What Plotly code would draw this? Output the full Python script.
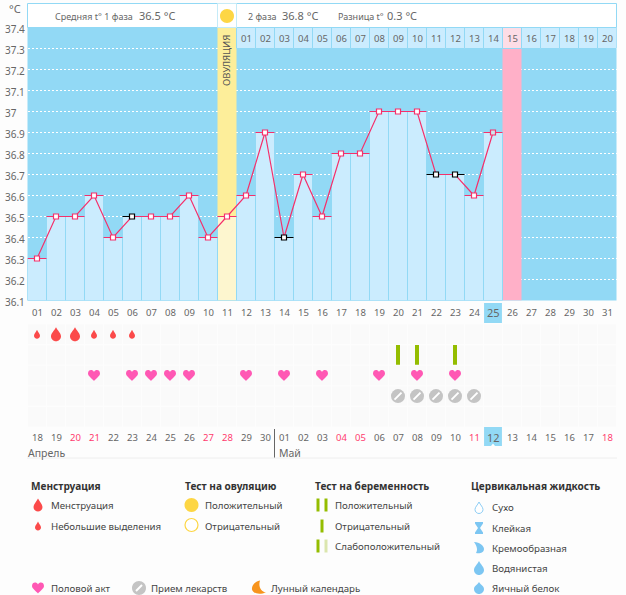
import plotly.graph_objects as go

W, H = 626, 595

days = list(range(1, 32))
day_labels = ["%02d" % d for d in days]
temps = [36.3, 36.5, 36.5, 36.6, 36.4, 36.5, 36.5, 36.5, 36.6, 36.4, 36.5, 36.6, 36.9, 36.4, 36.7,
         36.5, 36.8, 36.8, 37.0, 37.0, 37.0, 36.7, 36.7, 36.6, 36.9]
temp_days = days[:len(temps)]
black_days = [6, 14, 22, 23]

date_labels = ["18", "19", "20", "21", "22", "23", "24", "25", "26", "27", "28", "29", "30", "01", "02", "03",
               "04", "05", "06", "07", "08", "09", "10", "11", "12", "13", "14", "15", "16", "17", "18"]
red_days = [3, 4, 10, 11, 17, 18, 24, 31]
cycle_days = list(range(12, 32))
cycle_labels = ["%02d" % d for d in range(1, 21)]
y_ticks = [37.4, 37.3, 37.2, 37.1, 37, 36.9, 36.8, 36.7, 36.6, 36.5, 36.4, 36.3, 36.2, 36.1]
y_labels = ["37.4", "37.3", "37.2", "37.1", "37", "36.9", "36.8", "36.7", "36.6", "36.5", "36.4", "36.3", "36.2", "36.1"]

big_drop_days = [2, 3]
small_drop_days = [1, 4, 5, 6]
preg_test_days = [20, 21, 23]
heart_days = [4, 6, 7, 8, 9, 12, 14, 16, 19, 21, 23]
pill_days = [20, 21, 22, 23, 24]
ovulation_day = 11
peak_day = 26
today = 25

SKY = "#92d9f5"
PALE = "#cbecfe"
PINK = "#f5306b"
GREEN = "#94bd00"
ICON_BLUE = "#7cc6f2"
GREY_TXT = "#666666"
DARK_TXT = "#444444"
FONT = "Noto Sans"


def drop(top, r, c):
    # tip at top, round body of radius r centred on c
    return ("M0,{t} C{a},{m} {r},{u} {r},{c} C{r},{d} {e},{b} 0,{b} C-{e},{b} -{r},{d} -{r},{c} "
            "C-{r},{u} -{a},{m} 0,{t} Z").format(t=top, a=r * 0.35, m=top * 0.5, r=r, u=c + r * 0.6, c=c,
                                                 d=c - r * 0.55, e=r * 0.55, b=c - r)


def circle(r):
    k = r * 0.55
    return ("M{r},0 C{r},{k} {k},{r} 0,{r} C-{k},{r} -{r},{k} -{r},0 C-{r},-{k} -{k},-{r} 0,-{r} "
            "C{k},-{r} {r},-{k} {r},0 Z").format(r=r, k=k)


BIG_DROP = drop(7, 5, -2)
SMALL_DROP = drop(4.5, 3, -1.5)
LEGEND_DROP = drop(6.5, 4.5, -2)
HEART = "M0,-5.5 C-2,-3 -6,-0.5 -6,2 C-6,6 -1.5,6.5 0,3.5 C1.5,6.5 6,6 6,2 C6,-0.5 2,-3 0,-5.5 Z"
MOON = "M1,7 C-5,6 -7.5,1 -7,-2 C-6,-6 0,-7.5 7,-5 C2,-4 -1,1 1,7 Z"
SLASH = "M-3,-3 L3,3"
NOTCH = "M-2,0 L2,0 L0,2.5 Z"


def px(x):
    return x / W


def py(y):
    return 1 - y / H


def box(x0, y0, x1, y1, fill, line=None, layer="above"):
    return dict(type="rect", xref="paper", yref="paper", x0=px(x0), x1=px(x1), y0=py(y0), y1=py(y1),
                fillcolor=fill, line=dict(color=line, width=1) if line else dict(width=0), layer=layer)


def icon(path, x, y, fill, line=None, width=1):
    return dict(type="path", xref="paper", yref="paper", xsizemode="pixel", ysizemode="pixel",
                xanchor=px(x), yanchor=py(y), path=path, fillcolor=fill,
                line=dict(color=line, width=width) if line else dict(width=0))


def mark(path, day, row, fill):
    return dict(type="path", xref="x", yref="y2", xsizemode="pixel", ysizemode="pixel",
                xanchor=day, yanchor=row, path=path, fillcolor=fill, line=dict(width=0))


def label(text, x, y, size=9.7, color=DARK_TXT, bold=False, anchor="left", xref="paper", angle=0):
    # annotations carry about 2px of padding on the left
    if xref == "paper" and anchor == "left":
        x = x - 2
    return dict(text="<b>%s</b>" % text if bold else text, x=px(x) if xref == "paper" else x, xref=xref,
                y=py(y), yref="paper", xanchor=anchor, yanchor="middle", showarrow=False, textangle=angle,
                font=dict(family=FONT, size=size, color=color))


fig = go.Figure()

# full height columns behind the temperature bars
fig.add_trace(go.Bar(x=[ovulation_day], y=[1.3], base=36.1, width=1, marker=dict(color="#fdee9a", line=dict(width=0)),
                     hoverinfo="skip"))
fig.add_trace(go.Bar(x=[peak_day], y=[1.2], base=36.1, width=1, marker=dict(color="#ffb0c8", line=dict(width=0)),
                     hoverinfo="skip"))
fig.add_trace(go.Bar(x=cycle_days, y=[0.1] * len(cycle_days), base=37.3, width=1,
                     marker=dict(color=["#fddde6" if d == peak_day else PALE for d in cycle_days],
                                 line=dict(color=SKY, width=1)), hoverinfo="skip"))
fig.add_trace(go.Bar(x=temp_days, y=[t - 36.1 for t in temps], base=36.1, width=1,
                     marker=dict(color=["#fdf6cf" if d == ovulation_day else PALE for d in temp_days],
                                 line=dict(color=SKY, width=1))))

# dashes first, then the line, then the squares
pink_days = [d for d in temp_days if d not in black_days]
for group, col in [(black_days, "#000000"), (pink_days, PINK)]:
    fig.add_trace(go.Scatter(x=group, y=[temps[d - 1] for d in group], mode="markers",
                             error_x=dict(type="constant", value=0.5, color=col, thickness=1.2, width=0),
                             marker=dict(size=1, opacity=0)))
fig.add_trace(go.Scatter(x=temp_days, y=temps, mode="lines", line=dict(color=PINK, width=1.2), hoverinfo="skip"))
for group, col in [(black_days, "#000000"), (pink_days, PINK)]:
    fig.add_trace(go.Scatter(x=group, y=[temps[d - 1] for d in group], mode="markers",
                             marker=dict(symbol="square", size=5, line=dict(color=col, width=1.2),
                                         color=["#cfe6ee" if d == today else "white" for d in group])))

# preg tests and pills in the rows under the chart
fig.add_trace(go.Scatter(x=preg_test_days, y=[1] * len(preg_test_days), yaxis="y2", mode="markers",
                         marker=dict(symbol="line-ns", size=14, line=dict(color=GREEN, width=4))))
fig.add_trace(go.Scatter(x=pill_days, y=[3] * len(pill_days), yaxis="y2", mode="markers",
                         marker=dict(symbol="circle", size=14, color="#c4c4c4", line=dict(width=0))))
fig.add_trace(go.Scatter(x=pill_days, y=[3] * len(pill_days), yaxis="y2", mode="markers",
                         marker=dict(symbol="line-ne", size=7, line=dict(color="white", width=2))))

shapes = [box(27.5, 27.5, 616.5, 300.5, SKY, layer="below")]
annotations = []

# header
shapes.append(box(27.5, 3.5, 616.5, 27.5, "white", SKY))
shapes.append(box(217.5, 3.5, 236.5, 27.5, "white", "#c5ebf8"))
shapes.append(icon(circle(7), 227, 16, "#fdd644"))
annotations += [
    label("°C", 15, 9, size=11, color=GREY_TXT, anchor="center"),
    label("Средняя t° 1 фаза", 55, 16, size=9, color=GREY_TXT),
    label("36.5 °C", 139, 15.5, size=11, color=GREY_TXT),
    label("2 фаза", 248, 16, size=9, color=GREY_TXT),
    label("36.8 °C", 282, 15.5, size=11, color=GREY_TXT),
    label("Разница t°", 338, 16, size=9, color=GREY_TXT),
    label("0.3 °C", 387, 15.5, size=11, color=GREY_TXT),
    label("ОВУЛЯЦИЯ", ovulation_day, 61, size=9.5, color="#555555", anchor="center", xref="x", angle=-90),
]
for v, txt in zip(y_ticks, y_labels):
    annotations.append(label(txt, 5, 300 - (v - 36.1) * 210 + 2, size=10, color=GREY_TXT))
for d, txt in zip(cycle_days, cycle_labels):
    annotations.append(label(txt, d, 39, size=9.5, color=GREY_TXT, anchor="center", xref="x"))

# rows under the chart
for d in days:
    for row in range(5):
        shapes.append(dict(type="rect", xref="x", yref="y2", x0=d - 0.48, x1=d + 0.48, y0=row - 0.47, y1=row + 0.47,
                           fillcolor="#fafafa", line=dict(width=0), layer="below"))
    big = d == today
    annotations.append(label(day_labels[d - 1], d, 312, size=11 if big else 9.5, color=GREY_TXT,
                             anchor="center", xref="x"))
    annotations.append(label(date_labels[d - 1], d, 437, size=11 if big else 9.5,
                             color="#ff3b6e" if d in red_days else GREY_TXT, anchor="center", xref="x"))

shapes.append(dict(type="rect", xref="x", yref="paper", x0=today - 0.47, x1=today + 0.47, y0=py(323), y1=py(303),
                   fillcolor=SKY, line=dict(width=0), layer="below"))
shapes.append(dict(type="rect", xref="x", yref="paper", x0=today - 0.47, x1=today + 0.47, y0=py(446), y1=py(427),
                   fillcolor=SKY, line=dict(width=0), layer="below"))
shapes.append(dict(type="path", xref="x", yref="paper", xsizemode="pixel", ysizemode="pixel", xanchor=today,
                   yanchor=py(446), path=NOTCH, fillcolor="white", line=dict(width=0)))

for d in big_drop_days:
    shapes.append(mark(BIG_DROP, d, 0, "#fb4a4a"))
for d in small_drop_days:
    shapes.append(mark(SMALL_DROP, d, 0, "#fb4a4a"))
for d in heart_days:
    shapes.append(mark(HEART, d, 2, "#ff58b4"))

annotations += [
    label("Апрель", 28, 453, size=10.5, color=GREY_TXT),
    label("Май", 279, 453, size=10.5, color=GREY_TXT),
]
shapes.append(dict(type="line", xref="paper", yref="paper", x0=px(274.5), x1=px(274.5), y0=py(429), y1=py(458),
                   line=dict(color="#666666", width=1)))
shapes.append(dict(type="line", xref="paper", yref="paper", x0=px(27), x1=px(617), y0=py(458), y1=py(458),
                   line=dict(color="#eeeeee", width=1)))

# legend
annotations += [
    label("Менструация", 31, 486, size=10.1, color="#333333", bold=True),
    label("Менструация", 51, 505),
    label("Небольшие выделения", 51, 526),
    label("Тест на овуляцию", 185, 486, size=10.1, color="#333333", bold=True),
    label("Положительный", 205, 505),
    label("Отрицательный", 205, 526),
    label("Тест на беременность", 315, 486, size=10.1, color="#333333", bold=True),
    label("Положительный", 335, 505),
    label("Отрицательный", 335, 526),
    label("Слабоположительный", 335, 546),
    label("Цервикальная жидкость", 471, 486, size=10.1, color="#333333", bold=True),
    label("Сухо", 492, 507),
    label("Клейкая", 492, 528),
    label("Кремообразная", 492, 548),
    label("Водянистая", 492, 568),
    label("Яичный белок", 492, 588),
    label("Половой акт", 51, 588),
    label("Прием лекарств", 151, 588),
    label("Лунный календарь", 271, 588),
]
shapes.append(icon(LEGEND_DROP, 38, 505, "#fb4a4a"))
shapes.append(icon(SMALL_DROP, 38, 526, "#fb4a4a"))
shapes.append(icon(circle(7), 191.5, 505, "#fdd644"))
shapes.append(icon(circle(6.5), 191.5, 525, "white", "#fdd644", 1.2))
for x, y, col in [(318, 505, GREEN), (326, 505, GREEN), (322, 526, GREEN),
                  (318, 546, GREEN), (326, 546, "#dbe6ae")]:
    shapes.append(box(x - 1.5, y - 6.5, x + 1.5, y + 6.5, col))
shapes.append(icon(drop(6, 4, -1.5), 479, 508, "white", "#8ccdf5", 1))
shapes.append(icon("M-4,6 L4,6 L4,4.5 L1,0 L4,-4.5 L4,-6 L-4,-6 L-4,-4.5 L-1,0 L-4,4.5 Z", 479, 528, ICON_BLUE))
shapes.append(icon("M-5,6 C1,6 5,2 5,-1 C5,-5 0,-6 -3,-5 C-1,-2 -2,2 -5,6 Z", 479, 548, ICON_BLUE))
shapes.append(icon(drop(7, 5, -2), 479, 568, ICON_BLUE))
shapes.append(icon(drop(6, 5, -1), 479, 588, ICON_BLUE))
shapes.append(icon(HEART, 38, 588, "#ff58b4"))
shapes.append(icon(circle(7), 139, 588, "#c4c4c4"))
shapes.append(icon(SLASH, 139, 588, "white", "white", 2))
shapes.append(icon(MOON, 259, 587.5, "#f7941d"))

fig.update_layout(
    width=W, height=H, margin=dict(l=0, r=0, t=0, b=0), autosize=False,
    paper_bgcolor="#fdfdfd", plot_bgcolor="rgba(0,0,0,0)", showlegend=False, barmode="overlay",
    shapes=shapes, annotations=annotations,
    xaxis=dict(domain=[px(27.5), px(616.5)], range=[0.5, 31.5], visible=False, anchor="y"),
    yaxis=dict(domain=[py(300.5), py(27.5)], range=[36.1, 37.4], showticklabels=False, ticks="", zeroline=False,
               tickvals=y_ticks[1:-1], showgrid=True, gridcolor="white", griddash="2px,2px", gridwidth=1,
               showline=False),
    yaxis2=dict(domain=[py(427), py(324)], range=[4.5, -0.5], visible=False, anchor="x"),
)

fig.write_html("out.html", config=dict(displayModeBar=False), post_script="document.body.style.margin='0';")
